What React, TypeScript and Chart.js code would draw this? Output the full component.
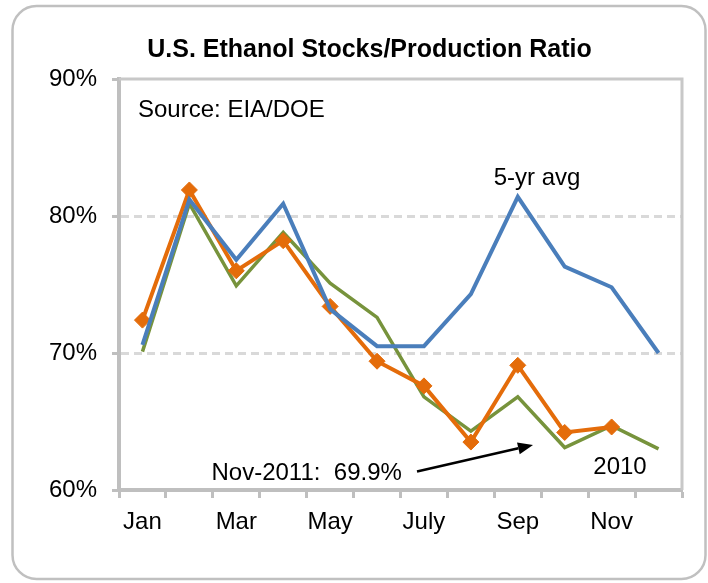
import React, { useEffect, useRef } from 'react';
import { Chart, registerables } from 'chart.js';

Chart.register(...registerables);

// ---- data ----
const MONTHS = ['Jan', 'Feb', 'Mar', 'Apr', 'May', 'Jun', 'July', 'Aug', 'Sep', 'Oct', 'Nov', 'Dec'];
const AVG_5YR = [70.6, 81.2, 76.8, 80.9, 73.2, 70.5, 70.5, 74.3, 81.4, 76.3, 74.8, 70.0];
const Y2010 = [70.1, 80.9, 74.9, 78.8, 75.1, 72.6, 66.8, 64.3, 66.8, 63.1, 64.7, 63.0];
const Y2011 = [72.4, 81.9, 76.0, 78.2, 73.4, 69.4, 67.6, 63.5, 69.1, 64.2, 64.6, null];
const Y_MIN = 60;
const Y_MAX = 90;
const Y_STEP = 10;
const TITLE = 'U.S. Ethanol Stocks/Production Ratio';
const SOURCE_TEXT = 'Source: EIA/DOE';
const AVG_LABEL = '5-yr avg';
const Y2010_LABEL = '2010';
const NOTE_TEXT = 'Nov-2011:  69.9%';

const FONT = '"Liberation Sans", Arial, Helvetica, sans-serif';
const BLUE = '#4a7ebb';
const GREEN = '#77933c';
const ORANGE = '#e46c0a';
const AXIS_GRAY = '#bfbfbf';

const decorPlugin = {
  id: 'decor',
  beforeDraw(chart: any) {
    const ctx = chart.ctx as CanvasRenderingContext2D;
    ctx.save();
    ctx.fillStyle = '#ffffff';
    ctx.fillRect(0, 0, chart.width, chart.height);
    // outer rounded frame
    const x = 12.5, y = 6, w = 693, h = 573, r = 24;
    ctx.beginPath();
    ctx.moveTo(x + r, y);
    ctx.lineTo(x + w - r, y);
    ctx.arcTo(x + w, y, x + w, y + r, r);
    ctx.lineTo(x + w, y + h - r);
    ctx.arcTo(x + w, y + h, x + w - r, y + h, r);
    ctx.lineTo(x + r, y + h);
    ctx.arcTo(x, y + h, x, y + h - r, r);
    ctx.lineTo(x, y + r);
    ctx.arcTo(x, y, x + r, y, r);
    ctx.closePath();
    ctx.strokeStyle = '#c0c0c0';
    ctx.lineWidth = 2.5;
    ctx.stroke();
    // title
    ctx.font = `bold 25px ${FONT}`;
    ctx.fillStyle = '#000';
    ctx.textAlign = 'center';
    ctx.textBaseline = 'alphabetic';
    ctx.fillText(TITLE, 369.5, 57);
    ctx.restore();
  },
  beforeDatasetsDraw(chart: any) {
    const ctx = chart.ctx as CanvasRenderingContext2D;
    const { left, right, top, bottom } = chart.chartArea;
    ctx.save();
    ctx.strokeStyle = '#c8c8c8';
    ctx.lineWidth = 3;
    ctx.beginPath();
    ctx.moveTo(left, top);
    ctx.lineTo(right, top);
    ctx.lineTo(right, bottom);
    ctx.stroke();
    ctx.restore();
  },
  afterDatasetsDraw(chart: any) {
    const ctx = chart.ctx as CanvasRenderingContext2D;
    ctx.save();
    ctx.fillStyle = '#000';
    ctx.font = `24px ${FONT}`;
    ctx.textBaseline = 'alphabetic';
    ctx.textAlign = 'left';
    ctx.fillText(SOURCE_TEXT, 138, 117);
    ctx.fillText(NOTE_TEXT, 211.5, 480);
    ctx.textAlign = 'center';
    ctx.fillText(AVG_LABEL, 537, 185);
    ctx.fillText(Y2010_LABEL, 620, 474);
    // arrow
    const x1 = 417, y1 = 471.5, x2 = 533, y2 = 445;
    const ang = Math.atan2(y2 - y1, x2 - x1);
    const headLen = 15, headW = 6;
    const bx = x2 - headLen * Math.cos(ang);
    const by = y2 - headLen * Math.sin(ang);
    ctx.strokeStyle = '#000';
    ctx.lineWidth = 2.5;
    ctx.beginPath();
    ctx.moveTo(x1, y1);
    ctx.lineTo(bx, by);
    ctx.stroke();
    ctx.beginPath();
    ctx.moveTo(x2, y2);
    ctx.lineTo(bx + headW * Math.sin(ang), by - headW * Math.cos(ang));
    ctx.lineTo(bx - headW * Math.sin(ang), by + headW * Math.cos(ang));
    ctx.closePath();
    ctx.fill();
    ctx.restore();
  },
};

export default function App() {
  const canvasRef = useRef<HTMLCanvasElement | null>(null);

  useEffect(() => {
    if (!canvasRef.current) return;
    const chart = new Chart(canvasRef.current, {
      type: 'line',
      data: {
        labels: MONTHS,
        datasets: [
          {
            label: '5-yr avg',
            data: AVG_5YR,
            borderColor: BLUE,
            backgroundColor: BLUE,
            borderWidth: 4,
            pointRadius: 0,
            tension: 0,
          },
          {
            label: '2011',
            data: Y2011,
            borderColor: ORANGE,
            backgroundColor: ORANGE,
            borderWidth: 4,
            pointStyle: 'rectRot',
            pointRadius: 8,
            pointBorderWidth: 1,
            pointBorderColor: ORANGE,
            pointBackgroundColor: ORANGE,
            tension: 0,
          },
          {
            label: '2010',
            data: Y2010,
            borderColor: GREEN,
            backgroundColor: GREEN,
            borderWidth: 3.5,
            pointRadius: 0,
            tension: 0,
          },
        ],
      },
      options: {
        responsive: false,
        animation: false,
        devicePixelRatio: 1,
        layout: { padding: { top: 79, right: 26, bottom: 0, left: 0 } },
        plugins: {
          legend: { display: false },
          title: { display: false },
          tooltip: { enabled: false },
        },
        scales: {
          x: {
            type: 'category',
            offset: true,
            afterFit: (s: any) => {
              s.height = 93;
            },
            grid: {
              offset: true,
              drawOnChartArea: false,
              drawTicks: true,
              tickLength: 8,
              tickColor: AXIS_GRAY,
              tickWidth: 3,
              color: AXIS_GRAY,
            },
            border: { display: true, color: AXIS_GRAY, width: 4 },
            ticks: {
              autoSkip: false,
              maxRotation: 0,
              padding: 10,
              color: '#000',
              font: { family: FONT, size: 24 },
              callback: (_v: any, i: number) => (i % 2 === 0 ? MONTHS[i] : ''),
            },
          },
          y: {
            min: Y_MIN,
            max: Y_MAX,
            afterFit: (s: any) => {
              s.width = 119;
            },
            grid: {
              color: (c: any) =>
                c.tick && c.tick.value > Y_MIN && c.tick.value < Y_MAX ? '#d9d9d9' : 'rgba(0,0,0,0)',
              lineWidth: 3,
              drawTicks: true,
              tickLength: 7,
              tickColor: AXIS_GRAY,
              tickWidth: 3,
            },
            border: { display: true, color: AXIS_GRAY, width: 4, dash: [8, 5] },
            ticks: {
              stepSize: Y_STEP,
              padding: 15,
              color: '#000',
              font: { family: FONT, size: 24 },
              callback: (v: any) => `${v}%`,
            },
          },
        },
      },
      plugins: [decorPlugin],
    } as any);
    return () => chart.destroy();
  }, []);

  return (
    <div style={{ position: 'absolute', left: 0, top: 0, width: 708, height: 583, background: '#fff' }}>
      <canvas ref={canvasRef} width={708} height={583} style={{ display: 'block', width: 708, height: 583 }} />
    </div>
  );
}
